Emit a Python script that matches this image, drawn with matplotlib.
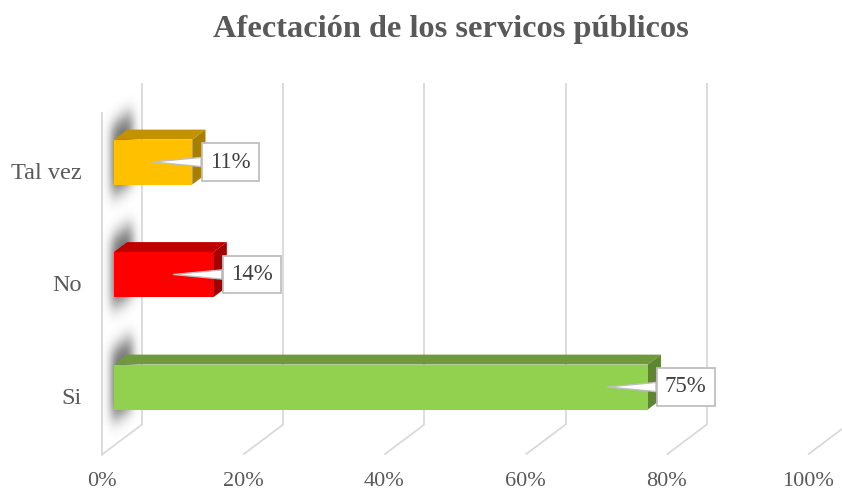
import numpy as np
import matplotlib
matplotlib.use('Agg')
import matplotlib.pyplot as plt
from matplotlib.patches import Polygon

### Data
categories = ['Si', 'No', 'Tal vez']
values = [75, 14, 11]
face_colors = ['#92D050', '#FF0000', '#FFC000']
top_colors = ['#6E9A3B', '#C00000', '#C29200']
side_colors = ['#5E8631', '#A50000', '#A87F00']
xticks = [0, 20, 40, 60, 80, 100]
xtick_labels = ['0%', '20%', '40%', '60%', '80%', '100%']
title = 'Afectación de los servicos públicos'

### Layout (fake 3D: screen = front plane + depth shear)
W, H = 842, 491
PX = 7.06           # pixels per percent
PY = 112.5          # pixels per category unit
X0, Y0 = 102, 396   # pixel of (0%, Si) on the front plane
DX = 40 / PX        # depth shear in percent units
DY = 30 / PY        # depth shear in category units
FLOOR, TOP = -0.52, 2.52
D1, D2 = 0.30, 0.63   # bar depth range
HALF = 0.2            # half bar thickness
BAR_SCALE = 1.008     # bars sit a bit nearer than the front plane

GRID = '#D9D9D9'
TXT = '#595959'

plt.rcParams['font.family'] = ['Liberation Serif', 'DejaVu Serif']


def proj(p, y, d):
    return (p + d * DX, y + d * DY)


def main():
    fig = plt.figure(figsize=(W / 100, H / 100), dpi=100)
    ax = fig.add_axes([0, 0, 1, 1])
    ax.set_xlim(-X0 / PX, (W - X0) / PX)
    ax.set_ylim((Y0 - H) / PY, Y0 / PY)
    ax.axis('off')

    ### walls and grid
    for p in xticks:
        (xa, ya), (xb, yb) = proj(p, FLOOR, 0), proj(p, FLOOR, 1)
        ax.plot([xa, xb], [ya, yb], color=GRID, lw=1.3, zorder=1, solid_capstyle='butt')
        (xc, yc) = proj(p, TOP, 1)
        ax.plot([xb, xc], [yb, yc], color=GRID, lw=1.3, zorder=1, solid_capstyle='butt')
    (xa, ya), (xb, yb) = proj(0, FLOOR, 0), proj(0, TOP, 0)
    ax.plot([xa, xb], [ya, yb], color=GRID, lw=1.3, zorder=1)

    ### soft shadows on the side wall
    nx, ny = 80, 700
    ys = np.linspace(FLOOR, TOP + DY, ny)
    xs = np.linspace(0, DX, nx)
    X, Y = np.meshgrid(xs, ys)
    d = X / DX
    yw = Y - d * DY
    mask = np.zeros_like(X)
    for i in range(len(values)):
        m = (d > 0.24) & (d < 0.76) & (yw > i - 0.30) & (yw < i + 0.33)
        mask = np.maximum(mask, m.astype(float))
    def blur(a, sigma, axis):
        k = np.arange(-3 * int(sigma) - 1, 3 * int(sigma) + 2)
        k = np.exp(-0.5 * (k / sigma) ** 2)
        k /= k.sum()
        return np.apply_along_axis(lambda r: np.convolve(r, k, mode='same'), axis, a)
    mask = blur(mask, 9, 1)
    mask = blur(mask, 16, 0)
    rgba = np.zeros((ny, nx, 4))
    rgba[..., :3] = 0.2
    rgba[..., 3] = np.clip(mask * 0.7, 0, 1)
    im = ax.imshow(rgba, extent=(0, DX, FLOOR, TOP + DY), origin='lower',
                   aspect='auto', interpolation='bilinear', zorder=1.5)
    wall = Polygon([proj(0, FLOOR, 0), proj(0, FLOOR, 1), proj(0, TOP, 1), proj(0, TOP, 0)],
                   closed=True, fc='none', ec='none', transform=ax.transData)
    ax.add_patch(wall)
    im.set_clip_path(wall)

    ### bars
    for i, v in enumerate(values):
        lo, hi = i - HALF, i + HALF
        vv = v * BAR_SCALE
        front = [proj(0, lo, D1), proj(vv, lo, D1), proj(vv, hi, D1), proj(0, hi, D1)]
        top = [proj(0, hi, D1), proj(vv, hi, D1), proj(vv, hi, D2), proj(0, hi, D2)]
        side = [proj(vv, lo, D1), proj(vv, hi, D1), proj(vv, hi, D2), proj(vv, lo, D2)]
        ax.add_patch(Polygon(top, closed=True, fc=top_colors[i], ec='none', zorder=3))
        ax.add_patch(Polygon(side, closed=True, fc=side_colors[i], ec='none', zorder=3))
        ax.add_patch(Polygon(front, closed=True, fc=face_colors[i], ec='none', zorder=4))

        ### callout labels
        fx, fy = proj(vv, i, D1)
        ax.annotate('{}%'.format(v), xy=(fx - 40 / PX, fy), xytext=(fx + 38 / PX, fy),
                    ha='center', va='center', fontsize=16.5, color='#404040', zorder=6,
                    bbox=dict(boxstyle='square,pad=0.36', fc='white', ec='#BFBFBF', lw=1.3),
                    arrowprops=dict(arrowstyle='wedge,tail_width=0.4', fc='white',
                                    ec='#BFBFBF', lw=1.0, shrinkA=0, shrinkB=0))

        ax.text(-20 / PX, i - 0.02, categories[i], ha='right', va='center',
                fontsize=17.5, color=TXT)

    ### x tick labels
    for p, lab in zip(xticks, xtick_labels):
        ax.text(p, (Y0 - 481) / PY, lab, ha='center', va='center', fontsize=16, color=TXT)

    fig.text(451 / W, 1 - 37 / H, title, ha='center', va='baseline',
             fontsize=23.3, fontweight='bold', color=TXT)

    fig.savefig('out.png', dpi=100)


if __name__ == '__main__':
    main()
